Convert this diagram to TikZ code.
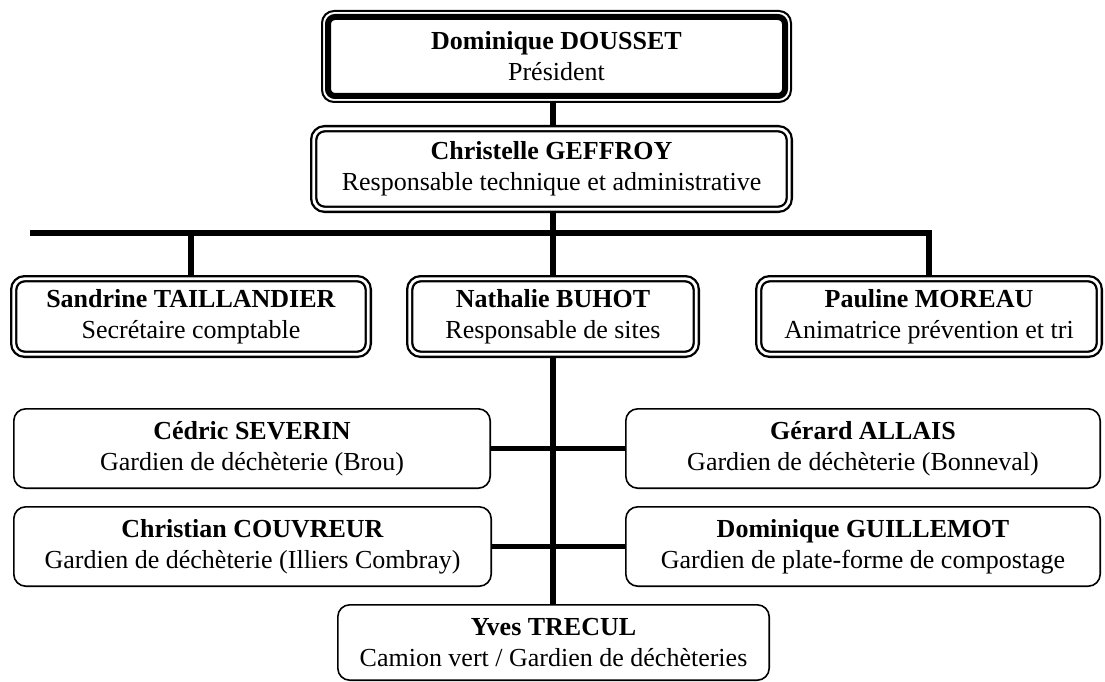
\documentclass[tikz,border=0pt]{standalone}
\usepackage{fontspec}
\setmainfont{Liberation Serif}
\usetikzlibrary{backgrounds,fit}
\tikzset{
  txt/.style={font=\fontsize{26}{31}\selectfont, align=center, inner sep=0pt, outer sep=0pt},
  plainbox/.style={txt, draw, line width=1.6pt, rounded corners=12pt},
  dblbox/.style={txt, draw, double, line width=2.3pt, double distance=2.8pt, rounded corners=11pt},
  topin/.style={txt, draw, line width=6pt, rounded corners=7pt},
  topout/.style={draw, line width=2pt, rounded corners=12pt, inner sep=6pt, outer sep=0pt},
  conn/.style={line width=5.5pt}
}
\begin{document}
\begin{tikzpicture}[x=1pt,y=-1pt]
\useasboundingbox (0,0) rectangle (1105,682);
% level 1
\node[topin, minimum width=457pt, minimum height=79pt] (top) at (556.5,56.5)
  {\textbf{Dominique DOUSSET}\\Président};
\node[topout, fit=(top)] (topo) {};
% level 2
\node[dblbox, minimum width=475.6pt, minimum height=80.6pt] (second) at (551.5,169)
  {\textbf{Christelle GEFFROY}\\Responsable technique et administrative};
% level 3
\node[dblbox, minimum width=354.6pt, minimum height=75.6pt] (sandrine) at (191,316.5)
  {\textbf{Sandrine TAILLANDIER}\\Secrétaire comptable};
\node[dblbox, minimum width=286.6pt, minimum height=75.6pt] (nathalie) at (553,316.5)
  {\textbf{Nathalie BUHOT}\\Responsable de sites};
\node[dblbox, minimum width=340.6pt, minimum height=75.6pt] (pauline) at (929,316.5)
  {\textbf{Pauline MOREAU}\\Animatrice prévention et tri};
% level 4
\node[plainbox, minimum width=476.4pt, minimum height=79.4pt] (cedric) at (252,448.5)
  {\textbf{Cédric SEVERIN}\\Gardien de déchèterie (Brou)};
\node[plainbox, minimum width=474.4pt, minimum height=79.4pt] (gerard) at (863,448.5)
  {\textbf{Gérard ALLAIS}\\Gardien de déchèterie (Bonneval)};
\node[plainbox, minimum width=477.4pt, minimum height=79.4pt] (christian) at (252.5,546.5)
  {\textbf{Christian COUVREUR}\\Gardien de déchèterie (Illiers Combray)};
\node[plainbox, minimum width=474.4pt, minimum height=79.4pt] (domg) at (863,546.5)
  {\textbf{Dominique GUILLEMOT}\\Gardien de plate-forme de compostage};
\node[plainbox, minimum width=431.4pt, minimum height=75.4pt] (yves) at (553.5,642.5)
  {\textbf{Yves TRECUL}\\Camion vert / Gardien de déchèteries};
% connectors
\coordinate (cx) at (553,0);
\coordinate (hl) at (30,233);
\begin{pgfonlayer}{background}
\draw[conn] (topo.south -| cx) -- (second.north -| cx);
\draw[conn] (second.south -| cx) -- (nathalie.north -| cx);
\draw[conn] (hl) -- (hl -| pauline.north) -- (pauline.north);
\draw[conn] (hl -| sandrine.north) -- (sandrine.north);
\draw[conn] (nathalie.south -| cx) -- (yves.north -| cx);
\draw[conn] (cedric.east) -- (gerard.west);
\draw[conn] (christian.east) -- (domg.west);
\end{pgfonlayer}
\end{tikzpicture}
\end{document}
